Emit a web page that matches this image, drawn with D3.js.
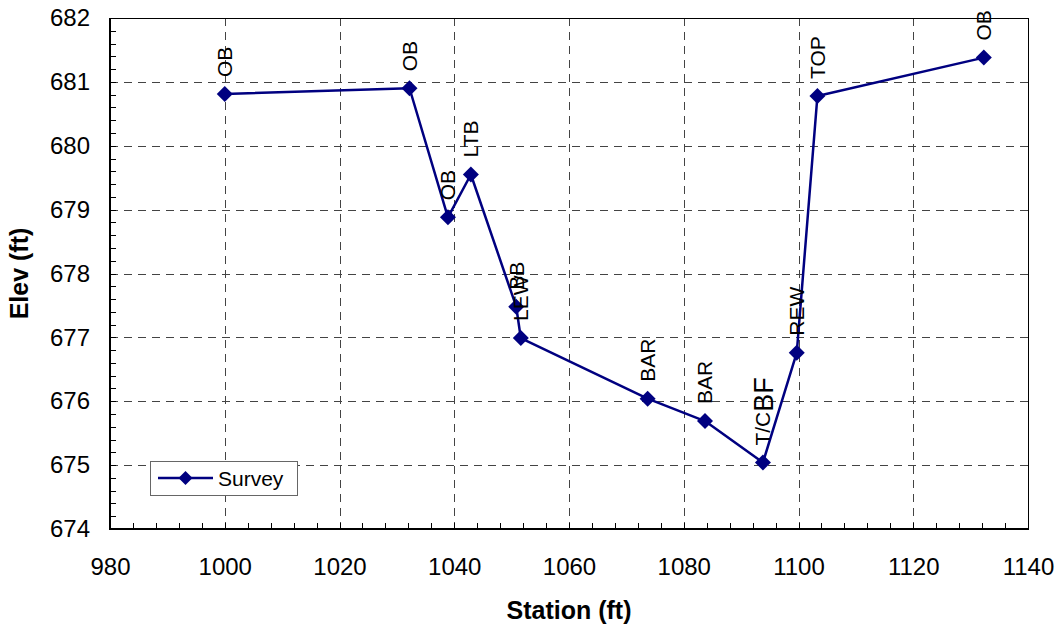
<!DOCTYPE html>
<html><head><meta charset="utf-8">
<script src="https://cdn.jsdelivr.net/npm/d3@7"></script>
<style>
body{margin:0;background:#fff}
svg{display:block;font-family:"Liberation Sans",Arial,sans-serif}
</style>
</head><body>
<svg id="c" width="1063" height="630"></svg>
<script>
// ---- data ----
const stations   = [1000, 1032.2, 1038.9, 1042.9, 1050.8, 1051.6, 1073.7, 1083.7, 1093.8, 1099.7, 1103.3, 1132.3];
const elevations = [680.81, 680.90, 678.88, 679.55, 677.48, 676.99, 676.04, 675.69, 675.04, 676.76, 680.78, 681.38];
const pointLabels = ["OB", "OB", "OB", "LTB", "BB", "LEW", "BAR", "BAR", "T/CBF", "REW", "TOP", "OB"];
const xTicks = [980, 1000, 1020, 1040, 1060, 1080, 1100, 1120, 1140];
const yTicks = [674, 675, 676, 677, 678, 679, 680, 681, 682];
const seriesName = "Survey";
const xTitle = "Station (ft)";
const yTitle = "Elev (ft)";

// ---- layout ----
const L = 110, R = 1028, T = 18, B = 529;
const navy = "#000080";
const svg = d3.select("#c");

const x = d3.scaleLinear().domain([xTicks[0], xTicks[xTicks.length-1]]).range([L, R]);
const y = d3.scaleLinear().domain([yTicks[0], yTicks[yTicks.length-1]]).range([B, T]);

// grid
const grid = svg.append("g").attr("stroke", "#444").attr("stroke-width", 1).attr("stroke-dasharray", "8,6");
grid.selectAll("line.v").data(xTicks.slice(1, -1)).join("line")
  .attr("x1", d => Math.round(x(d)) + 0.5).attr("x2", d => Math.round(x(d)) + 0.5)
  .attr("y1", T).attr("y2", B);
grid.selectAll("line.h").data(yTicks.slice(1, -1)).join("line")
  .attr("y1", d => Math.round(y(d)) + 0.5).attr("y2", d => Math.round(y(d)) + 0.5)
  .attr("x1", L).attr("x2", R);

// minor ticks (inside)
const yMinor = d3.range(0, (yTicks.length - 1) * 5 + 1).map(i => yTicks[0] + i * 0.2);
const xMinor = d3.range(0, (xTicks.length - 1) * 5 + 1).map(i => xTicks[0] + i * 4);
const tk = svg.append("g").attr("stroke", "#000").attr("stroke-width", 1);
tk.selectAll("line.ym").data(yMinor).join("line")
  .attr("x1", L).attr("x2", L + 6)
  .attr("y1", d => Math.round(y(d)) + 0.5).attr("y2", d => Math.round(y(d)) + 0.5);
tk.selectAll("line.xm").data(xMinor).join("line")
  .attr("y1", B).attr("y2", B - 6)
  .attr("x1", d => Math.round(x(d)) + 0.5).attr("x2", d => Math.round(x(d)) + 0.5);

// frame
svg.append("line").attr("x1", L).attr("x2", R).attr("y1", T + 0.5).attr("y2", T + 0.5).attr("stroke", "#000").attr("stroke-width", 1);
svg.append("line").attr("x1", R + 0.5).attr("x2", R + 0.5).attr("y1", T).attr("y2", B).attr("stroke", "#000").attr("stroke-width", 1);
svg.append("line").attr("x1", L).attr("x2", L).attr("y1", T).attr("y2", B + 1).attr("stroke", "#000").attr("stroke-width", 2);
svg.append("line").attr("x1", L - 1).attr("x2", R + 1).attr("y1", B).attr("y2", B).attr("stroke", "#000").attr("stroke-width", 2);

// axis labels via d3 axes
const ya = svg.append("g").attr("transform", `translate(${L},0)`)
  .call(d3.axisLeft(y).tickValues(yTicks).tickSize(0).tickPadding(20).tickFormat(d3.format("d")));
ya.select(".domain").remove();
ya.selectAll("text").attr("font-size", 24).attr("font-family", "Liberation Sans, Arial, sans-serif").attr("fill", "#000");

const xa = svg.append("g").attr("transform", `translate(0,${B})`)
  .call(d3.axisBottom(x).tickValues(xTicks).tickSize(0).tickPadding(29).tickFormat(d3.format("d")));
xa.select(".domain").remove();
xa.selectAll("text").attr("font-size", 24).attr("font-family", "Liberation Sans, Arial, sans-serif").attr("fill", "#000");

// titles
svg.append("text").attr("x", (L + R) / 2).attr("y", 619).attr("text-anchor", "middle")
  .attr("font-size", 25).attr("font-weight", "bold").text(xTitle);
svg.append("text").attr("transform", `translate(28,${(T + B) / 2}) rotate(-90)`).attr("text-anchor", "middle")
  .attr("font-size", 25).attr("font-weight", "bold").text(yTitle);

// series
const pts = stations.map((s, i) => ({x: s, y: elevations[i], label: pointLabels[i]}));
svg.append("path").datum(pts)
  .attr("d", d3.line().x(d => x(d.x)).y(d => y(d.y)))
  .attr("fill", "none").attr("stroke", navy).attr("stroke-width", 2.5).attr("stroke-linejoin", "round");

const diamond = r => `M0,${-r}L${r},0L0,${r}L${-r},0Z`;
svg.append("g").selectAll("path").data(pts).join("path")
  .attr("transform", d => `translate(${x(d.x)},${y(d.y)})`)
  .attr("d", diamond(8)).attr("fill", navy);

// data labels (rotated)
const labelParts = l => l === "T/CBF" ? [["T/C", 21, 7.5], ["BF", 27, 2.5]] : [[l, 21, 7.5]];
const lg = svg.append("g");
pts.forEach(d => {
  const t = lg.append("text")
    .attr("transform", `translate(${x(d.x)},${y(d.y) - 17}) rotate(-90)`)
    .attr("text-anchor", "start").attr("fill", "#000");
  labelParts(d.label).forEach(([s, fs, dy]) => {
    t.append("tspan").attr("font-size", fs).attr("dy", dy).text(s);
  });
});

// legend
const leg = svg.append("g");
leg.append("rect").attr("x", 150.5).attr("y", 461.5).attr("width", 147).attr("height", 34)
  .attr("fill", "#fff").attr("stroke", "#666").attr("stroke-width", 1);
leg.append("line").attr("x1", 158).attr("x2", 213).attr("y1", 478).attr("y2", 478)
  .attr("stroke", navy).attr("stroke-width", 2.5);
leg.append("path").attr("transform", "translate(185.5,478)").attr("d", diamond(7)).attr("fill", navy);
leg.append("text").attr("x", 218).attr("y", 485.5).attr("font-size", 21).attr("fill", "#000").text(seriesName);
</script>
</body></html>
